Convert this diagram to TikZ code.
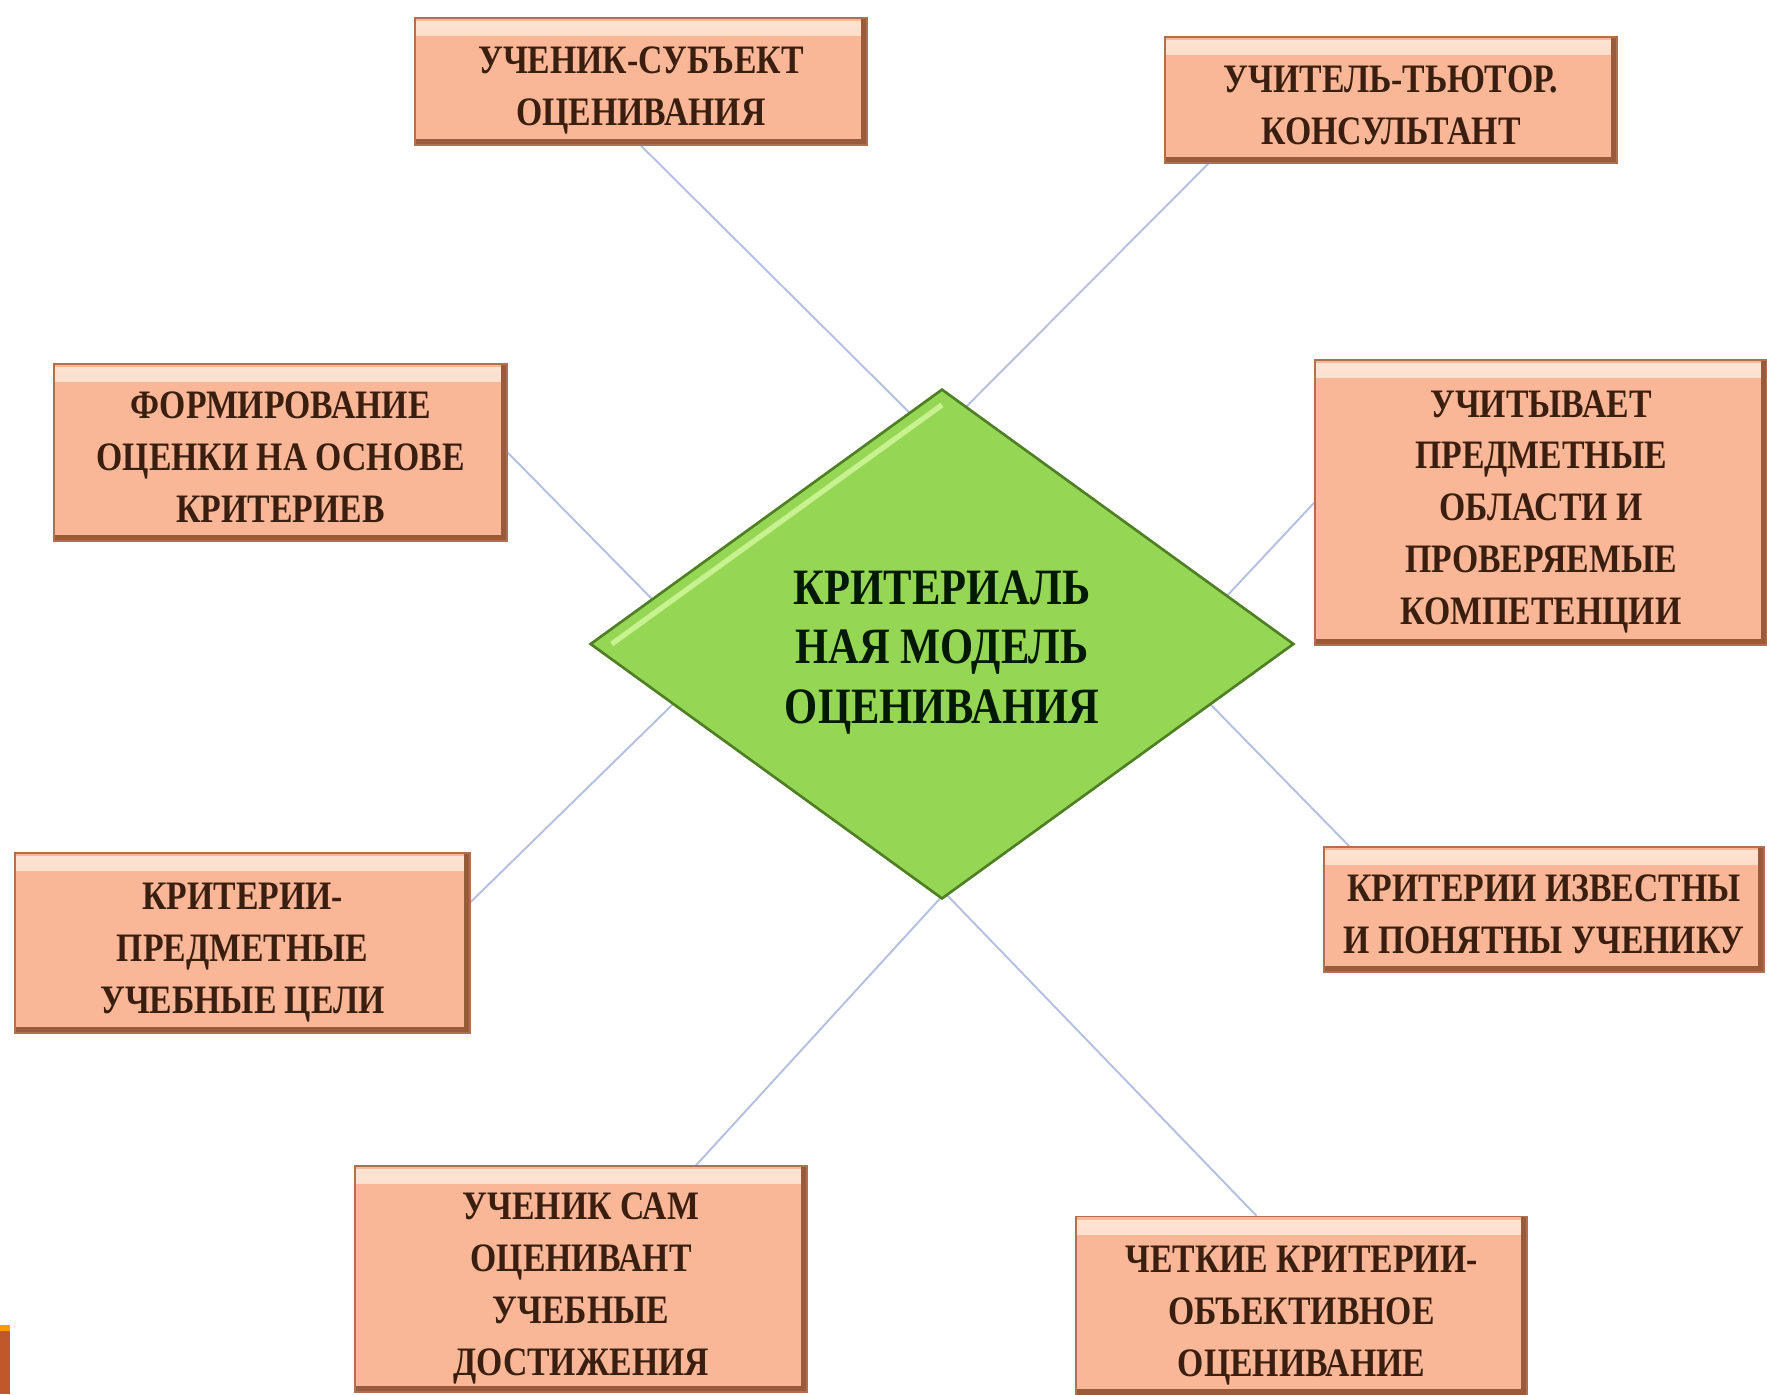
\documentclass[tikz,border=0pt]{standalone}
\usepackage{fontspec}
\newfontfamily\boxfont[FakeStretch=0.835]{Liberation Serif}
\newfontfamily\modelfont[FakeStretch=0.835]{Liberation Serif}
\usepackage{tikz}
\usetikzlibrary{shapes.geometric, calc, backgrounds}

\definecolor{boxfill}{HTML}{F9B797}
\definecolor{boxlight}{HTML}{FDE4D2}
\definecolor{boxedge}{HTML}{B0704F}
\definecolor{boxdark}{HTML}{9A5A3C}
\definecolor{boxtext}{HTML}{3A1E10}
\definecolor{modelfill}{HTML}{96D655}
\definecolor{modeledge}{HTML}{4E7F24}
\definecolor{modellight}{HTML}{C8F290}
\definecolor{linkcol}{HTML}{B4BFE2}
\definecolor{cornerbit}{HTML}{C1582A}

% text block set a little below the middle of its shape
\newcommand{\lowtext}[1]{\raisebox{-4.5pt}[\height][\depth]{\begin{tabular}{@{}c@{}}#1\end{tabular}}}

\begin{document}
\begin{tikzpicture}[x=0.02cm, y=-0.02cm]

\tikzstyle{goal} = [rectangle, fill=boxfill, draw=boxedge, line width=0.8pt, inner sep=0pt, text=boxtext, font=\boxfont\bfseries\fontsize{23}{29.5}\selectfont,
  path picture={
    \shade[top color=boxlight, bottom color=boxfill] ([yshift=-2pt]path picture bounding box.north west) rectangle ([yshift=-10pt]path picture bounding box.north east);
    \fill[boxdark] (path picture bounding box.south west) rectangle ([yshift=3.5pt]path picture bounding box.south east);
    \fill[boxdark] ([xshift=-3.5pt]path picture bounding box.south east) rectangle (path picture bounding box.north east);
  }]
\tikzstyle{model} = [diamond, fill=modelfill, draw=modeledge, line width=1.5pt, inner sep=0pt, minimum width=14.08cm, minimum height=10.2cm, font=\modelfont\bfseries\fontsize{29}{34}\selectfont, text=black!90!green,
  path picture={
    \draw[modellight, line width=3pt] ([xshift=12pt]path picture bounding box.west) -- ([yshift=-8.7pt]path picture bounding box.north);
  }]
\tikzstyle{link} = [draw=linkcol, line width=1.1pt]

\useasboundingbox (0,0) rectangle (1767,1394);

\node (model) [model] at (942,644) {\lowtext{КРИТЕРИАЛЬ\\НАЯ МОДЕЛЬ\\ОЦЕНИВАНИЯ}};

\node (subject) [goal, minimum width=9.04cm, minimum height=2.54cm] at (641,81.5) {\lowtext{УЧЕНИК-СУБЪЕКТ\\ОЦЕНИВАНИЯ}};
\node (tutor) [goal, minimum width=9.04cm, minimum height=2.52cm] at (1391,100) {\lowtext{УЧИТЕЛЬ-ТЬЮТОР.\\КОНСУЛЬТАНТ}};
\node (forming) [goal, minimum width=9.06cm, minimum height=3.54cm] at (280.5,452.5) {\lowtext{ФОРМИРОВАНИЕ\\ОЦЕНКИ НА ОСНОВЕ\\КРИТЕРИЕВ}};
\node (areas) [goal, minimum width=9.04cm, minimum height=5.7cm] at (1541,502.5) {\lowtext{УЧИТЫВАЕТ\\ПРЕДМЕТНЫЕ\\ОБЛАСТИ И\\ПРОВЕРЯЕМЫЕ\\КОМПЕТЕНЦИИ}};
\node (known) [goal, minimum width=8.8cm, minimum height=2.5cm] at (1544,909.5) {\lowtext{КРИТЕРИИ ИЗВЕСТНЫ\\И ПОНЯТНЫ УЧЕНИКУ}};
\node (aims) [goal, minimum width=9.1cm, minimum height=3.6cm] at (242.5,943) {\lowtext{КРИТЕРИИ-\\ПРЕДМЕТНЫЕ\\УЧЕБНЫЕ ЦЕЛИ}};
\node (self) [goal, minimum width=9.04cm, minimum height=4.52cm] at (581,1279) {\lowtext{УЧЕНИК САМ\\ОЦЕНИВАНТ\\УЧЕБНЫЕ\\ДОСТИЖЕНИЯ}};
\node (clear) [goal, minimum width=9.02cm, minimum height=3.58cm] at (1301.5,1306) {\lowtext{ЧЕТКИЕ КРИТЕРИИ-\\ОБЪЕКТИВНОЕ\\ОЦЕНИВАНИЕ}};

% hidden ends of the links, behind the diamond
\coordinate (ptop) at (935,438);
\coordinate (pleft) at (715,663);
\coordinate (pright) at (1167,660);
\coordinate (pbottom) at (945,893);

\begin{scope}[on background layer]
\draw [link] (subject.south) -- (ptop);
\draw [link] ($(tutor.south west)+(44,0)$) -- (ptop);
\draw [link] (forming.east) -- (pleft);
\draw [link] ($(aims.east)+(0,-41)$) -- (pleft);
\draw [link] (areas.west) -- (pright);
\draw [link] ($(known.north west)+(26,0)$) -- (pright);
\draw [link] ($(self.north)+(115,0)$) -- (pbottom);
\draw [link] ($(clear.north)+(-45,0)$) -- (pbottom);
\end{scope}

\fill[cornerbit] (0,1325) rectangle (10,1394);
\fill[orange!80!yellow] (0,1325) rectangle (10,1331);
\end{tikzpicture}
\end{document}
